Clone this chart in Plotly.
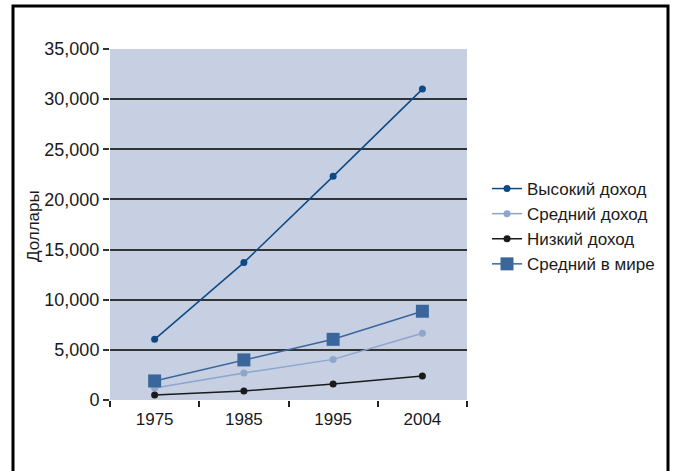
import plotly.graph_objects as go

years = ["1975", "1985", "1995", "2004"]
high_income = [6050, 13700, 22300, 31000]
middle_income = [1200, 2700, 4050, 6650]
low_income = [500, 900, 1600, 2400]
world_avg = [1900, 4000, 6050, 8850]

series_names = ["Высокий доход", "Средний доход", "Низкий доход", "Средний в мире"]
y_ticks = [0, 5000, 10000, 15000, 20000, 25000, 30000, 35000]
y_tick_labels = ["0", "5,000", "10,000", "15,000", "20,000", "25,000", "30,000", "35,000"]

W, H = 675, 471
L, R, T, B = 110, 467, 49, 400

def px_x(p):
    return (p - L) / (R - L)

def px_y(p):
    return (B - p) / (B - T)

fig = go.Figure()
fig.add_trace(go.Scatter(x=years, y=high_income, name=series_names[0], mode="lines+markers",
                         legendgroup="a",
                         line=dict(color="#0b4a85", width=1.5), marker=dict(size=7, color="#0b4a85")))
fig.add_trace(go.Scatter(x=years, y=middle_income, name=series_names[1], mode="lines+markers",
                         legendgroup="b",
                         line=dict(color="#8ea5cc", width=1.5), marker=dict(size=7, color="#8ea5cc")))
fig.add_trace(go.Scatter(x=years, y=low_income, name=series_names[2], mode="lines+markers",
                         legendgroup="c",
                         line=dict(color="#1a1a1a", width=1.5), marker=dict(size=7, color="#1a1a1a")))
fig.add_trace(go.Scatter(x=years, y=world_avg, name=series_names[3], mode="lines+markers",
                         legendgroup="d",
                         line=dict(color="#3a669c", width=1.5),
                         marker=dict(size=13, symbol="square", color="#3a669c")))

font = "Liberation Sans, Arial, sans-serif"
fig.update_layout(
    width=W, height=H,
    margin=dict(l=L, r=W - R, t=T, b=H - B, pad=0),
    paper_bgcolor="white",
    plot_bgcolor="#c7cfe2",
    font=dict(family=font, size=17, color="#1a1a1a"),
    showlegend=True,
    legend=dict(x=px_x(487), y=px_y(171), xanchor="left", yanchor="top",
                font=dict(size=17, family=font, color="#1a1a1a"),
                bgcolor="rgba(0,0,0,0)", tracegroupgap=0),
    xaxis=dict(type="category", range=[-0.5, 3.5], showgrid=False, zeroline=False,
               showline=False, ticks="outside", tickson="boundaries", ticklen=6,
               tickcolor="#222", tickwidth=1.5, tickfont=dict(size=17), fixedrange=True,
               ticklabelstandoff=7),
    yaxis=dict(range=[0, 35000], tickvals=y_ticks, ticktext=y_tick_labels,
               showgrid=True, gridcolor="#333333", gridwidth=1.5, zeroline=False,
               showline=False, ticks="outside", ticklen=6, tickcolor="#333333",
               tickwidth=1.5, tickfont=dict(size=18), fixedrange=True),
    annotations=[dict(text="Доллары", xref="paper", yref="paper", x=px_x(33), y=px_y(226),
                      xanchor="center", yanchor="middle", textangle=-90, showarrow=False,
                      font=dict(size=17, family=font, color="#1a1a1a"))],
    shapes=[dict(type="rect", xref="paper", yref="paper", x0=px_x(13), x1=px_x(668),
                 y0=px_y(520), y1=px_y(6), line=dict(color="black", width=3),
                 fillcolor="rgba(0,0,0,0)", layer="above")],
)

fig.write_html("out.html", config={"displayModeBar": False},
               post_script="document.body.style.margin='0';document.body.style.overflow='hidden';")
